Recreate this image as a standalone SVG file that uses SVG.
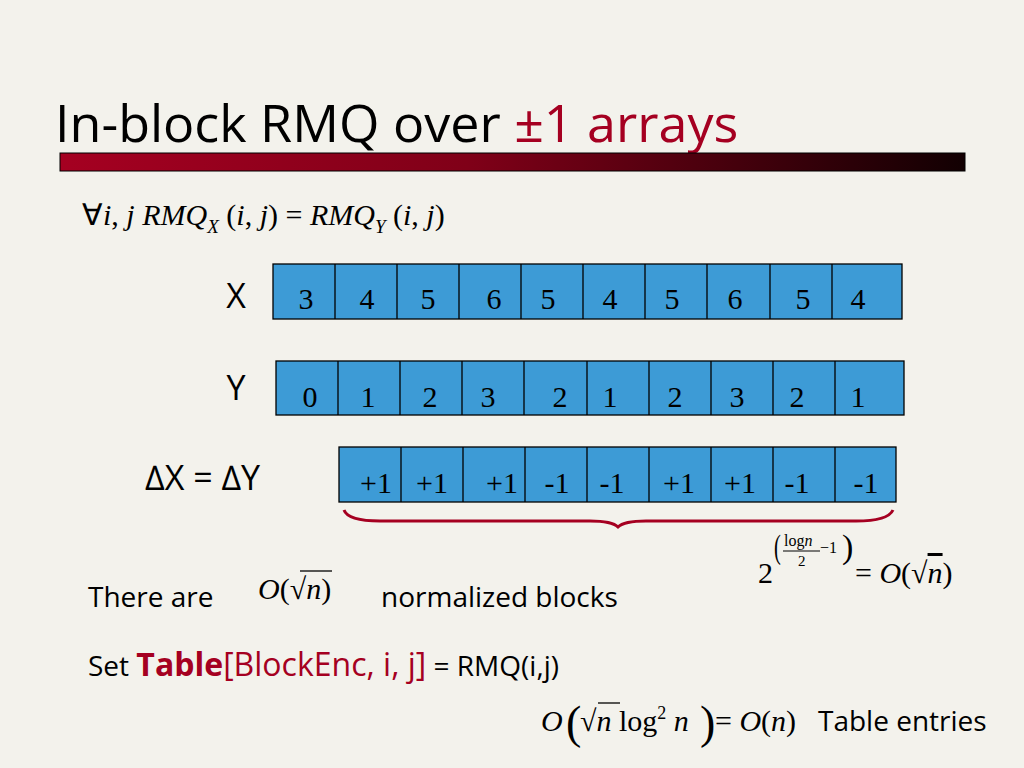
<svg xmlns="http://www.w3.org/2000/svg" width="1024" height="768" viewBox="0 0 1024 768">
<defs>
<linearGradient id="bar" x1="0" x2="1"><stop offset="0" stop-color="#a50021"/><stop offset="0.45" stop-color="#800018"/><stop offset="1" stop-color="#120002"/></linearGradient>
<style>
.cell{fill:#3d9bd6;stroke:#000;stroke-width:1.3}
.ln{stroke:#000;stroke-width:1.3}
.num{font-family:"Liberation Serif",serif;font-size:30px;fill:#000;text-anchor:middle}
.m{font-family:"Liberation Serif",serif;font-style:italic;fill:#000}
.r{font-family:"Liberation Serif",serif;fill:#000}
.s{font-family:"Open Sans","DejaVu Sans",sans-serif;fill:#000}
</style>
</defs>
<rect width="1024" height="768" fill="#f3f2ec"/>
<g id="title">
<text x="55" y="142" class="s" font-size="52" fill="#000">In-block RMQ over <tspan fill="#a50021">±1 arrays</tspan></text>
<rect x="60" y="153" width="905" height="18" fill="url(#bar)" stroke="#000" stroke-width="1"/>
</g>
<g id="formula1">
<text x="82" y="225" class="r" font-size="30">∀<tspan class="m">i</tspan>, <tspan class="m">j RMQ</tspan><tspan class="m" font-size="19" dy="8">X</tspan><tspan dy="-8"> (</tspan><tspan class="m">i</tspan>, <tspan class="m">j</tspan>) = <tspan class="m">RMQ</tspan><tspan class="m" font-size="19" dy="8">Y</tspan><tspan dy="-8"> (</tspan><tspan class="m">i</tspan>, <tspan class="m">j</tspan>)</text>
</g>
<g id="rowX">
<text x="236" y="308" class="s" font-size="34" fill="#d04010" text-anchor="middle">X</text>
<rect class="cell" x="273" y="264" width="629" height="55"/>
<path class="ln" d="M335 264V319M397 264V319M459 264V319M521 264V319M583 264V319M645 264V319M707 264V319M770 264V319M832 264V319"/>
<g class="num"><text x="306" y="309">3</text><text x="367" y="309">4</text><text x="428" y="309">5</text><text x="494" y="309">6</text><text x="548" y="309">5</text><text x="610" y="309">4</text><text x="672" y="309">5</text><text x="735" y="309">6</text><text x="803" y="309">5</text><text x="858" y="309">4</text></g>
</g>
<g id="rowY">
<text x="236" y="400" class="s" font-size="34" fill="#d04010" text-anchor="middle">Y</text>
<rect class="cell" x="276" y="361" width="628" height="54"/>
<path class="ln" d="M338 361V415M400 361V415M462 361V415M524 361V415M587 361V415M649 361V415M711 361V415M773 361V415M835 361V415"/>
<g class="num"><text x="310" y="407">0</text><text x="368" y="407">1</text><text x="430" y="407">2</text><text x="488" y="407">3</text><text x="560" y="407">2</text><text x="610" y="407">1</text><text x="675" y="407">2</text><text x="737" y="407">3</text><text x="797" y="407">2</text><text x="858" y="407">1</text></g>
</g>
<g id="rowD">
<text x="145" y="490" class="s" font-size="34" fill="#e02020">∆X =  ∆Y</text>
<rect class="cell" x="339" y="447" width="557" height="55"/>
<path class="ln" d="M401 447V502M463 447V502M525 447V502M587 447V502M649 447V502M711 447V502M773 447V502M835 447V502"/>
<g class="num"><text x="376" y="493">+1</text><text x="432" y="493">+1</text><text x="502" y="493">+1</text><text x="557" y="493">-1</text><text x="612" y="493">-1</text><text x="679" y="493">+1</text><text x="740" y="493">+1</text><text x="797" y="493">-1</text><text x="866" y="493">-1</text></g>
</g>
<g id="connectors">
<path d="M344 510 Q348 521 380 521 L590 521 Q612 521 618 527 Q624 521 646 521 L856 521 Q888 521 893 510" fill="none" stroke="#a50021" stroke-width="3"/>
</g>
<g id="formula2">
<text x="758" y="583" class="r" font-size="30">2</text>
<text x="774" y="558" class="r" font-size="34" transform="scale(0.6 1) translate(516 0)">(</text>
<text x="784" y="546" class="r" font-size="16">log<tspan class="m">n</tspan></text>
<line x1="783" y1="551" x2="820" y2="551" stroke="#000" stroke-width="1"/>
<text x="798" y="566" class="r" font-size="15">2</text>
<text x="820" y="553" class="r" font-size="16">−1</text>
<text x="842" y="558" class="r" font-size="34" transform="translate(0 0)">)</text>
<text x="855" y="583" class="r" font-size="30">= <tspan class="m">O</tspan>(√<tspan class="m" text-decoration="overline">n</tspan>)</text>
</g>
<g id="text1">
<text x="88" y="607" class="s" font-size="28">There are</text>
<text x="258" y="599" class="r" font-size="30"><tspan class="m">O</tspan>(√<tspan class="m">n</tspan>)</text>
<line x1="300" y1="571" x2="332" y2="571" stroke="#000" stroke-width="1.3"/>
<text x="381" y="607" class="s" font-size="28">normalized blocks</text>
</g>
<g id="text2">
<text x="88" y="676" class="s" font-size="28">Set <tspan fill="#a50021" font-weight="bold" font-size="32">Table</tspan><tspan fill="#a50021" font-size="32">[BlockEnc, i, j]</tspan> = RMQ(i,j)</text>
</g>
<g id="formula3">
<text x="541" y="731" class="r" font-size="30"><tspan class="m">O</tspan></text>
<text x="566" y="738" class="r" font-size="46">(</text>
<text x="580" y="731" class="r" font-size="30">√<tspan class="m">n</tspan> log<tspan font-size="18" dy="-12">2</tspan><tspan dy="12"> </tspan><tspan class="m">n</tspan></text>
<line x1="598" y1="703" x2="620" y2="703" stroke="#000" stroke-width="1.3"/>
<text x="700" y="738" class="r" font-size="46">)</text>
<text x="715" y="731" class="r" font-size="30">= <tspan class="m">O</tspan>(<tspan class="m">n</tspan>)</text>
<text x="818" y="731" class="s" font-size="28">Table entries</text>
</g>
</svg>
